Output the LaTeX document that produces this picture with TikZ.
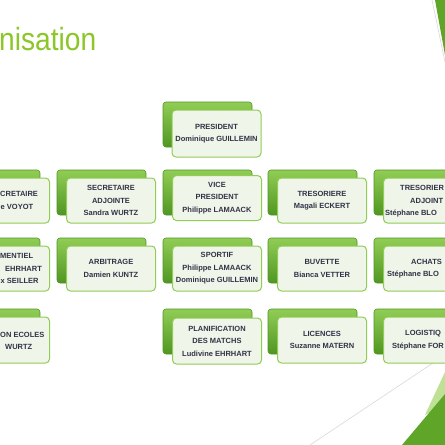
\documentclass[tikz,border=0pt]{standalone}
\usepackage{fontspec}
\setmainfont{Liberation Sans}
\usepackage{tikz}
\usetikzlibrary{calc}

\definecolor{titlegreen}{RGB}{140,198,40}
\definecolor{backtop}{RGB}{145,205,85}
\definecolor{backbottom}{RGB}{80,150,35}
\definecolor{frontedge}{RGB}{145,205,85}
\definecolor{frontfill}{RGB}{239,245,233}
\definecolor{labeltext}{RGB}{50,50,70}
\definecolor{decogreen}{RGB}{95,165,40}
\definecolor{decolight}{RGB}{190,225,150}

\tikzset{
  backbox/.style={draw=backbottom,line width=0.6pt,rounded corners=3pt,top color=backtop,bottom color=backbottom},
  frontbox/.style={draw=frontedge,line width=1pt,rounded corners=4pt,fill=frontfill,
    minimum width=89pt,minimum height=45pt,inner sep=0pt,align=center,text=labeltext,
    font=\bfseries\fontsize{7.5}{12.5}\selectfont},
  cuttext/.style={inner sep=0pt,text=labeltext,font=\bfseries\fontsize{7.5}{12.5}\selectfont}
}

\begin{document}
\begin{tikzpicture}[x=1pt,y=-1pt]
  \useasboundingbox (0,0) rectangle (445,445);
  \clip (0,0) rectangle (445,445);
  \fill[white] (0,0) rectangle (445,445);

  % title
  \node[anchor=base west,inner sep=0pt,text=titlegreen,xscale=0.88,
    font=\fontsize{32}{32}\selectfont] (title) at (-1,50) {nisation};

  % corner decorations
  \fill[decogreen] (435,0) -- (445,0) -- (445,55) -- cycle;
  \draw[black!15,line width=0.6pt] (432,0) -- (445,62);
  \draw[black!15,line width=0.6pt] (310,445) -- (445,355);
  \fill[decolight] (425,415) -- (445,372) -- (445,405) -- cycle;
  \fill[decogreen] (402,445) -- (445,394) -- (445,445) -- cycle;

  % row 0
  \draw[backbox] (163,102) rectangle (252,147);
  \node[frontbox,minimum height=47pt] (president) at (216.5,133.5) {PRESIDENT\\Dominique GUILLEMIN};

  % row 1
  \draw[backbox] (-49,170) rectangle (40,215);
  \node[frontbox] (secretaire) at (5,200.5) {};
  \node[cuttext,anchor=base west] (secretairea) at (0,196) {CRETAIRE};
  \node[cuttext,anchor=base west] (secretaireb) at (0.5,209) {e VOYOT};
  \draw[backbox] (57,170) rectangle (146,215);
  \node[frontbox] (secadjointe) at (111,200.5) {SECRETAIRE\\ADJOINTE\\Sandra WURTZ};
  \draw[backbox] (163,170) rectangle (252,215);
  \node[frontbox] (vicepres) at (217,198) {VICE\\PRESIDENT\\Philippe LAMAACK};
  \draw[backbox] (268,170) rectangle (357,215);
  \node[frontbox] (tresoriere) at (322,200.5) {TRESORIERE\\Magali ECKERT};
  \draw[backbox] (374,170) rectangle (463,215);
  \node[frontbox] (tresadjoint) at (428,200.5) {};
  \node[cuttext,anchor=base west] (tresadjointa) at (400,190) {TRESORIER};
  \node[cuttext,anchor=base west] (tresadjointb) at (410,203) {ADJOINT};
  \node[cuttext,anchor=base west] (tresadjointc) at (385,215) {Stéphane BLO};

  % row 2
  \draw[backbox] (-49,238) rectangle (40,283);
  \node[frontbox] (complement) at (5,268.5) {};
  \node[cuttext,anchor=base west] (complementa) at (0,258) {MENTIEL};
  \node[cuttext,anchor=base west] (complementb) at (5,271) {EHRHART};
  \node[cuttext,anchor=base west] (complementc) at (0.5,283) {x SEILLER};
  \draw[backbox] (57,238) rectangle (146,283);
  \node[frontbox] (arbitrage) at (111,268.5) {ARBITRAGE\\Damien KUNTZ};
  \draw[backbox] (163,238) rectangle (252,283);
  \node[frontbox] (sportif) at (217,268.5) {SPORTIF\\Philippe LAMAACK\\Dominique GUILLEMIN};
  \draw[backbox] (268,238) rectangle (357,283);
  \node[frontbox] (buvette) at (322,268.5) {BUVETTE\\Bianca VETTER};
  \draw[backbox] (374,238) rectangle (463,283);
  \node[frontbox] (achats) at (428,268.5) {};
  \node[cuttext,anchor=base west] (achatsa) at (411,264) {ACHATS};
  \node[cuttext,anchor=base west] (achatsb) at (387,276) {Stéphane BLO};

  % row 3
  \draw[backbox] (-49,309) rectangle (40,354);
  \node[frontbox,minimum height=46pt] (ecoles) at (5,340) {};
  \node[cuttext,anchor=base west] (ecolesa) at (0,337) {ON ECOLES};
  \node[cuttext,anchor=base west] (ecolesb) at (5,349) {WURTZ};
  \draw[backbox] (163,309) rectangle (252,354);
  \node[frontbox,minimum height=46pt] (planif) at (217,341) {PLANIFICATION\\DES MATCHS\\Ludivine EHRHART};
  \draw[backbox] (268,309) rectangle (357,354);
  \node[frontbox,minimum height=46pt] (licences) at (322,340) {LICENCES\\Suzanne MATERN};
  \draw[backbox] (374,309) rectangle (463,354);
  \node[frontbox,minimum height=46pt] (logistique) at (428,340) {};
  \node[cuttext,anchor=base west] (logistiquea) at (405,335) {LOGISTIQ};
  \node[cuttext,anchor=base west] (logistiqueb) at (392,348) {Stéphane FOR};
\end{tikzpicture}
\end{document}
